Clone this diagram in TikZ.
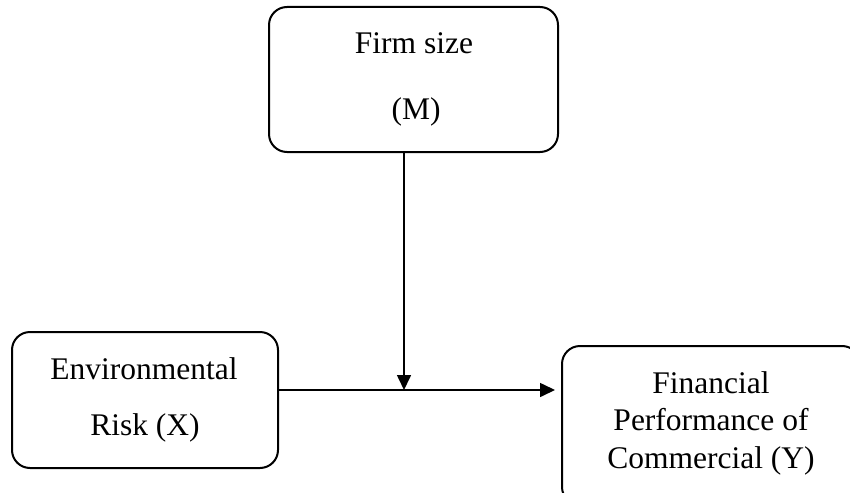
\documentclass[tikz,border=0pt]{standalone}
\usepackage{fontspec}
\setmainfont{Liberation Serif}
\usetikzlibrary{arrows.meta}
\begin{document}
\begin{tikzpicture}[x=1pt,y=-1pt,
  box/.style={draw,line width=2pt,rounded corners=18pt,inner sep=0pt},
  txt/.style={anchor=base,inner sep=0pt,font=\fontsize{31.5}{38}\selectfont},
  conn/.style={line width=1.6pt,-{Triangle[length=15pt,width=14pt]}}]
\useasboundingbox (0,0) rectangle (850,492);
\clip (0,0) rectangle (850,492);
% boxes
\node[box,minimum width=289pt,minimum height=145pt] (m) at (413.5,79.5) {};
\node[box,minimum width=266pt,minimum height=136pt] (x) at (145,400) {};
\node[box,minimum width=298pt,minimum height=159pt] (y) at (711,425.5) {};
% texts
\node[txt] (m1) at (414,54) {Firm size};
\node[txt] (m2) at (416,119) {(M)};
\node[txt] (x1) at (144,379) {Environmental};
\node[txt] (x2) at (145,435) {Risk (X)};
\node[txt] (y1) at (711,393) {Financial};
\node[txt] (y2) at (711,430) {Performance of};
\node[txt] (y3) at (711,468) {Commercial (Y)};
% connectors
\coordinate (j) at (404,390);
\draw[conn] (m.south -| j) -- (j);
\draw[conn,shorten >=6pt] (x.east |- j) -- (y.west |- j);
\end{tikzpicture}
\end{document}
